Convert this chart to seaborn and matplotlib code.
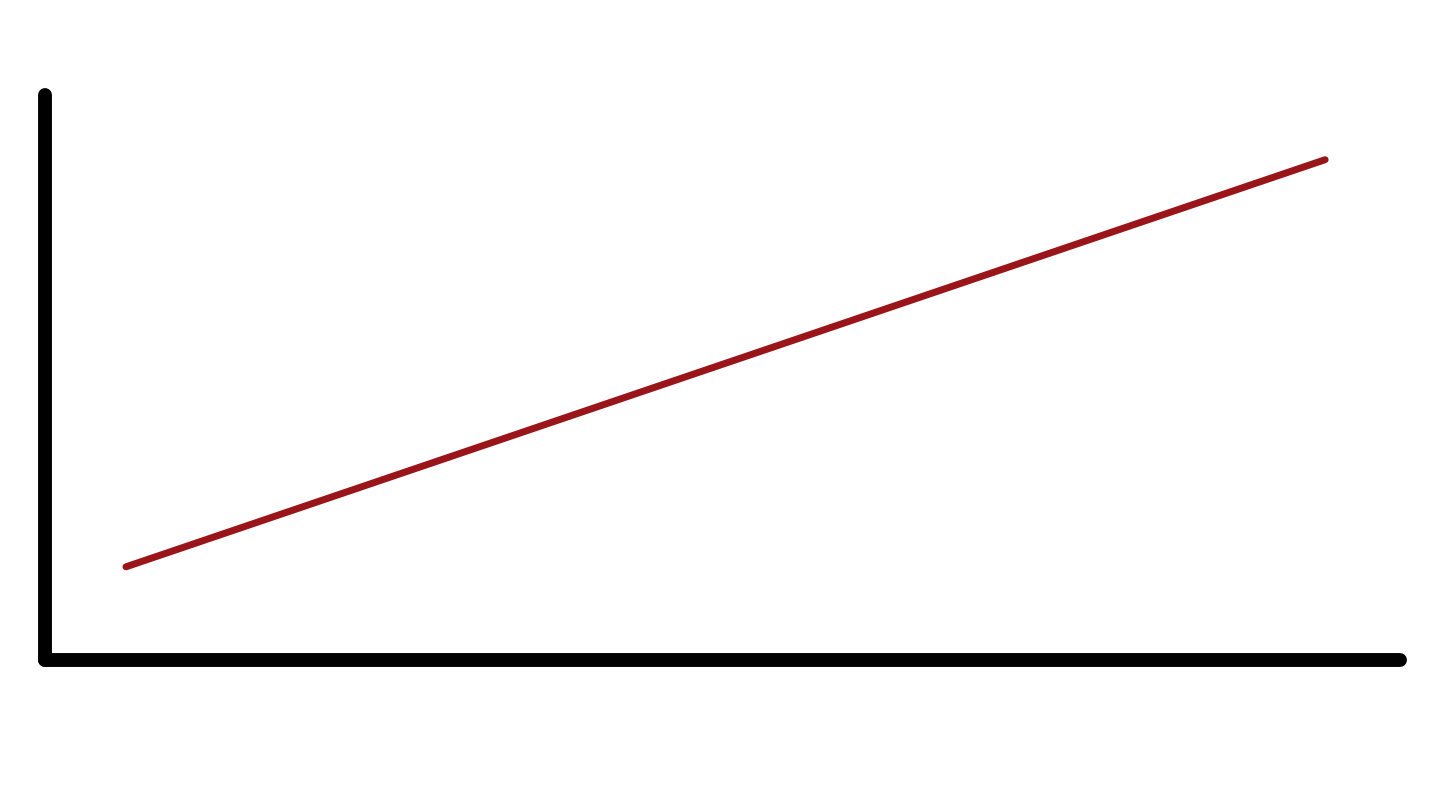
import pandas as pd
import matplotlib
matplotlib.use("Agg")
import matplotlib.pyplot as plt
import seaborn as sns

# Dados: uma reta crescente simples
x_vals = [0.6, 9.45]
y_vals = [1.65, 8.85]

df = pd.DataFrame({"x": x_vals, "y": y_vals})

sns.set_style("white")
fig = plt.figure(figsize=(14.4, 8.09), dpi=100)
ax = fig.add_axes([0.031, 0.184, 0.941, 0.699])

sns.lineplot(data=df, x="x", y="y", ax=ax, color="#9a1519", linewidth=5)
for ln in ax.get_lines():
    ln.set_solid_capstyle("round")

ax.set_xlim(0, 10)
ax.set_ylim(0, 10)
ax.set_xticks([])
ax.set_yticks([])
ax.set_xlabel("")
ax.set_ylabel("")

for side in ["top", "right"]:
    ax.spines[side].set_visible(False)
for side in ["left", "bottom"]:
    ax.spines[side].set_color("black")
    ax.spines[side].set_linewidth(10)
    ax.spines[side].set_capstyle("round")

fig.savefig("out.png", dpi=100, facecolor="white")
